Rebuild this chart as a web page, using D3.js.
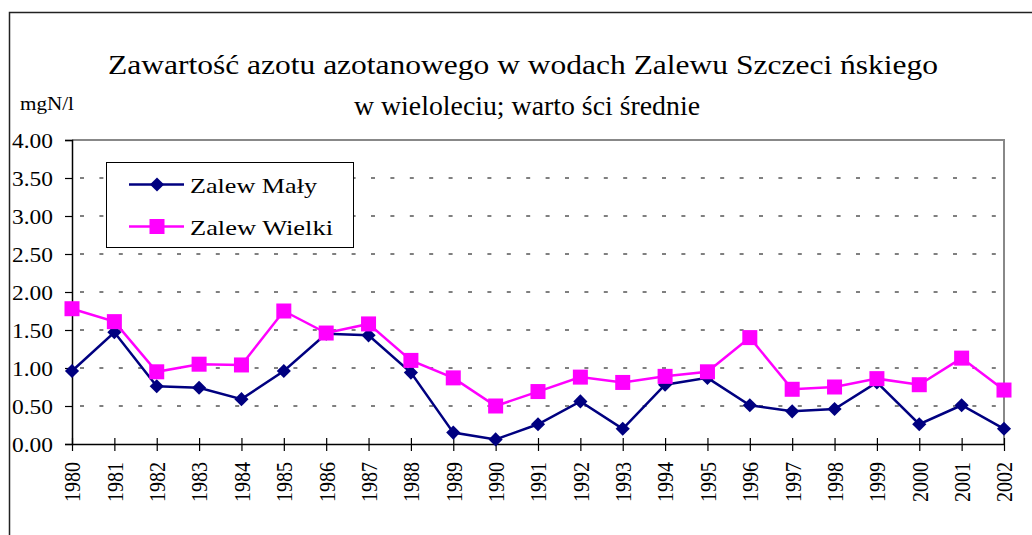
<!DOCTYPE html>
<html><head><meta charset="utf-8">
<script src="https://cdn.jsdelivr.net/npm/d3@7"></script>
<style>
html,body{margin:0;padding:0;background:#fff;}
svg text{font-family:"Liberation Serif","Times New Roman",Tinos,serif !important;}
</style></head>
<body><svg id="c" width="1032" height="535"></svg>
<script>
const years = ["1980","1981","1982","1983","1984","1985","1986","1987","1988","1989","1990","1991","1992","1993","1994","1995","1996","1997","1998","1999","2000","2001","2002"];
const zalewMaly = [0.96,1.47,0.76,0.74,0.59,0.96,1.45,1.43,0.94,0.15,0.06,0.26,0.56,0.20,0.78,0.87,0.51,0.43,0.46,0.81,0.26,0.51,0.20];
const zalewWielki = [1.78,1.61,0.95,1.05,1.04,1.75,1.46,1.58,1.10,0.87,0.50,0.69,0.88,0.81,0.89,0.95,1.40,0.72,0.75,0.86,0.78,1.13,0.71];
const yTicks = [0,0.5,1,1.5,2,2.5,3,3.5,4];
const seriesNames = ["Zalew Mały","Zalew Wielki"];
const titleLines = ["Zawartość azotu azotanowego w wodach Zalewu Szczeci ńskiego","w wieloleciu; warto ści średnie"];
const unitLabel = "mgN/l";

const FF = "'Liberation Serif', 'Times New Roman', Tinos, serif";
const svg = d3.select("#c");
const L = 72, R = 1004, T = 140, B = 444;
const x = d3.scalePoint().domain(years).range([L, R]);
const y = d3.scaleLinear().domain([0,4]).range([B, T]);

function serif(sel, size){ return sel.style("font-family", FF, "important").style("font-size", size+"px"); }

// outer frame
svg.append("path").attr("d","M9.5,535 V12.5 H1032").attr("fill","none").attr("stroke","#222").attr("stroke-width",1.5);

// title
const tl = [{x:108,y:74,w:830},{x:354,y:115,w:346}];
serif(svg.append("g").selectAll("text").data(titleLines).join("text"), 28)
  .attr("x",(d,i)=>tl[i].x).attr("y",(d,i)=>tl[i].y)
  .attr("textLength",(d,i)=>tl[i].w).attr("lengthAdjust","spacingAndGlyphs")
  .attr("fill","#000").text(d=>d);

serif(svg.append("text"), 18).attr("x",20).attr("y",110).attr("textLength",54).attr("lengthAdjust","spacingAndGlyphs").text(unitLabel);

// gridlines
svg.append("g").selectAll("line").data(yTicks.filter(v=>v>0 && v<4)).join("line")
  .attr("x1",L).attr("x2",R).attr("y1",d=>y(d)).attr("y2",d=>y(d))
  .attr("stroke","#000").attr("stroke-width",1).attr("stroke-dasharray","4,15.4").attr("stroke-dashoffset",-8);

// plot frame top/right grey
svg.append("path").attr("d",`M${L},${T} H${R} V${B}`).attr("fill","none").attr("stroke","#888").attr("stroke-width",2);

// y axis
const yAxis = svg.append("g").attr("transform",`translate(${L},0)`)
  .call(d3.axisLeft(y).tickValues(yTicks).tickFormat(d3.format(".2f")).tickSize(7).tickPadding(0));
yAxis.attr("font-family",null).attr("font-size",null);
yAxis.select(".domain").attr("stroke","#000").attr("stroke-width",1.5);
yAxis.selectAll(".tick line").attr("stroke","#000").attr("stroke-width",1.2);
serif(yAxis.selectAll("text"), 22).attr("fill","#000")
  .attr("text-anchor","start").attr("x",-60).attr("dy","0.35em")
  .attr("textLength",41).attr("lengthAdjust","spacingAndGlyphs");

// x axis
const xAxis = svg.append("g").attr("transform",`translate(0,${B})`)
  .call(d3.axisBottom(x).tickSizeInner(7).tickSizeOuter(0).tickPadding(0));
xAxis.attr("font-family",null).attr("font-size",null);
xAxis.select(".domain").attr("stroke","#000").attr("stroke-width",1.5);
xAxis.selectAll(".tick line").attr("y1",-6).attr("y2",7).attr("stroke","#000").attr("stroke-width",1.2);
serif(xAxis.selectAll("text"), 23).attr("fill","#000")
  .attr("transform","rotate(-90)").attr("text-anchor","start").attr("x",-58).attr("y",0).attr("dy","0.34em")
  .attr("textLength",40).attr("lengthAdjust","spacingAndGlyphs");

// series
const navy = "#000080", mag = "#FF00FF";
const line = d3.line().x((d,i)=>x(years[i])).y(d=>y(d));
svg.append("path").datum(zalewWielki).attr("d",line).attr("fill","none").attr("stroke",mag).attr("stroke-width",2.5);
svg.append("path").datum(zalewMaly).attr("d",line).attr("fill","none").attr("stroke",navy).attr("stroke-width",2.5);
const diamond = d3.symbol().type(d3.symbolSquare).size(100);
svg.append("g").selectAll("path").data(zalewMaly).join("path")
  .attr("d",diamond).attr("transform",(d,i)=>`translate(${x(years[i])},${y(d)}) rotate(45)`).attr("fill",navy);
svg.append("g").selectAll("rect").data(zalewWielki).join("rect")
  .attr("x",(d,i)=>x(years[i])-7.5).attr("y",d=>y(d)-7.5).attr("width",15).attr("height",15).attr("fill",mag);

// legend
const lg = svg.append("g");
lg.append("rect").attr("x",106.5).attr("y",162.5).attr("width",247).attr("height",85).attr("fill","#fff").attr("stroke","#000").attr("stroke-width",1);
const ly = [184.5, 226.5], lw = [127,143];
seriesNames.forEach((n,i)=>{
  const c = i===0?navy:mag;
  lg.append("line").attr("x1",129).attr("x2",184).attr("y1",ly[i]).attr("y2",ly[i]).attr("stroke",c).attr("stroke-width",2.5);
  if(i===0) lg.append("path").attr("d",diamond).attr("transform",`translate(157,${ly[i]}) rotate(45)`).attr("fill",c);
  else lg.append("rect").attr("x",149.5).attr("y",ly[i]-7.5).attr("width",15).attr("height",15).attr("fill",c);
  serif(lg.append("text"), 22).attr("x",190).attr("y",ly[i]+8).attr("textLength",lw[i]).attr("lengthAdjust","spacingAndGlyphs").text(n);
});
</script></body></html>
